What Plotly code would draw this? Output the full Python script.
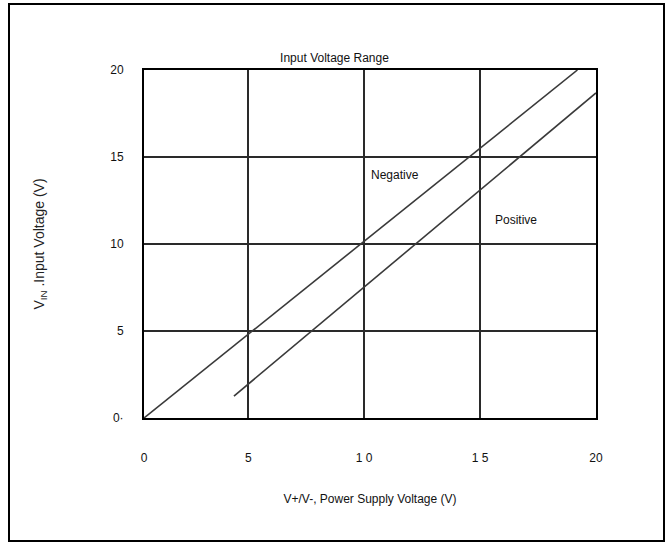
import plotly.graph_objects as go

# Data (x in supply-voltage axis units, y in input-voltage units)
neg_x = [0.5, 19.2]
neg_y = [0.0, 20.0]
pos_x = [4.38, 20.0]
pos_y = [1.26, 18.68]

x_tickvals = [0.5, 5, 10, 15, 20]
x_ticktext = ["0", "5", "1 0", "1 5", "20"]
y_tickvals = [0, 5, 10, 15, 20]
y_ticktext = ["0·", "5", "10", "15", "20"]

FONT = "Liberation Sans, Arial, sans-serif"

fig = go.Figure()
fig.add_trace(go.Scatter(x=neg_x, y=neg_y, mode="lines", name="Negative",
                         line=dict(color="#3a3a3a", width=1.6), showlegend=False))
fig.add_trace(go.Scatter(x=pos_x, y=pos_y, mode="lines", name="Positive",
                         line=dict(color="#3a3a3a", width=1.6), showlegend=False))

fig.add_annotation(x=11.32, y=13.97, text="Negative", showarrow=False,
                   font=dict(size=12, color="#111", family=FONT))
fig.add_annotation(x=16.53, y=11.38, text="Positive", showarrow=False,
                   font=dict(size=12, color="#111", family=FONT))

L, R, T, B = 144, 73, 70, 127
W, H = 669, 545
pw, ph = W - L - R, H - T - B

# outer frame around the whole figure
fig.add_shape(type="rect", xref="paper", yref="paper",
              x0=(9 - L) / pw, x1=(664 - L) / pw,
              y0=(H - B - 541) / ph, y1=(H - B - 4) / ph,
              line=dict(color="black", width=2), layer="below")

fig.update_layout(
    width=W, height=H,
    margin=dict(l=L, r=R, t=T, b=B),
    paper_bgcolor="white", plot_bgcolor="white",
    title=dict(text="Input Voltage Range", x=0.5, xanchor="center",
               y=1 - 58 / H, yanchor="middle",
               font=dict(size=12, color="#111", family=FONT)),
    font=dict(family=FONT, size=12, color="#111"),
    xaxis=dict(range=[0.5, 20], tickvals=x_tickvals, ticktext=x_ticktext,
               showgrid=True, gridcolor="#2a2a2a", gridwidth=1.5,
               showline=True, linecolor="black", linewidth=2, mirror=True,
               zeroline=False, ticks="", ticklabelstandoff=28,
               tickfont=dict(size=12, family=FONT, color="#111"),
               title=dict(text="V+/V-, Power Supply Voltage (V)", standoff=30,
                          font=dict(size=12, family=FONT, color="#111"))),
    yaxis=dict(range=[0, 20], tickvals=y_tickvals, ticktext=y_ticktext,
               showgrid=True, gridcolor="#2a2a2a", gridwidth=1.5,
               showline=True, linecolor="black", linewidth=2, mirror=True,
               zeroline=False, ticks="", ticklabelstandoff=16,
               tickfont=dict(size=12, family=FONT, color="#111"),
               title=dict(text="V<sub>IN</sub> .Input Voltage (V)", standoff=62,
                          font=dict(size=14, family=FONT, color="#222"))),
)

fig.write_html("out.html", config={"displayModeBar": False},
               post_script="document.body.style.margin='0px';")
